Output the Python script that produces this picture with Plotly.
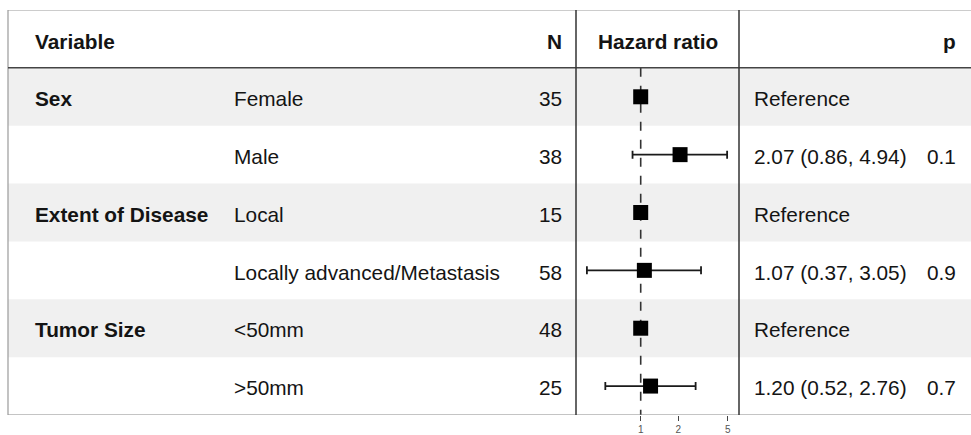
import math
import plotly.graph_objects as go

# ---- data ----
variables = ["Sex", "", "Extent of Disease", "", "Tumor Size", ""]
levels = ["Female", "Male", "Local", "Locally advanced/Metastasis", "<50mm", ">50mm"]
n_obs = [35, 38, 15, 58, 48, 25]
hr = [1.0, 2.07, 1.0, 1.07, 1.0, 1.20]
ci_low = [None, 0.86, None, 0.37, None, 0.52]
ci_high = [None, 4.94, None, 3.05, None, 2.76]
p_vals = ["", "0.1", "", "0.9", "", "0.7"]
x_ticks = [1, 2, 5]

W, H = 971, 435
ML, MR, MT, MB = 8, 0, 10, 15
PW = W - ML - MR

def px(p):
    return (p - ML) / PW

FONT = "Liberation Sans, Arial, sans-serif"
FS = 20.8
TXT = "#141414"

rows = len(levels)
ys = [i + 1.5 for i in range(rows)]

est_text = []
for h, lo, hi in zip(hr, ci_low, ci_high):
    if lo is None:
        est_text.append("Reference")
    else:
        est_text.append(f"{h:.2f} ({lo:.2f}, {hi:.2f})")

err_plus = [0 if hi is None else hi - h for h, hi in zip(hr, ci_high)]
err_minus = [0 if lo is None else h - lo for h, lo in zip(hr, ci_low)]

fig = go.Figure()
fig.add_trace(go.Scatter(
    x=hr, y=ys, mode="markers",
    marker=dict(symbol="square", size=15, color="black"),
    error_x=dict(type="data", symmetric=False, array=err_plus, arrayminus=err_minus,
                 color="#1a1a1a", thickness=1.8, width=4),
    showlegend=False, hoverinfo="skip", cliponaxis=False,
))

shapes = []
# row bands
for i in range(rows):
    if i % 2 == 0:
        shapes.append(dict(type="rect", xref="paper", yref="y", x0=0, x1=1,
                           y0=i + 1, y1=i + 2, fillcolor="#f0f0f0", line_width=0, layer="below"))
# borders
shapes.append(dict(type="line", xref="paper", yref="y", x0=0, x1=1, y0=0, y1=0,
                   line=dict(color="#9a9a9a", width=1.2)))
shapes.append(dict(type="line", xref="paper", yref="y", x0=0, x1=1, y0=rows + 1, y1=rows + 1,
                   line=dict(color="#8a8a8a", width=1.2)))
shapes.append(dict(type="line", xref="paper", yref="y", x0=0, x1=0, y0=0, y1=rows + 1,
                   line=dict(color="#9a9a9a", width=1.2)))
shapes.append(dict(type="line", xref="paper", yref="y", x0=0, x1=1, y0=1, y1=1,
                   line=dict(color="#444444", width=1.5)))
for xp in (576, 739):
    shapes.append(dict(type="line", xref="paper", yref="y", x0=px(xp), x1=px(xp), y0=0, y1=rows + 1,
                       line=dict(color="#333333", width=1.5)))
# reference line at HR = 1
shapes.append(dict(type="line", xref="x", yref="y", x0=1, x1=1, y0=1, y1=rows + 1,
                   line=dict(color="#333333", width=1.6, dash="dash"), layer="below"))

ann = []
def add(text, xpix, y, anchor, bold=False):
    ann.append(dict(text=f"<b>{text}</b>" if bold else text, x=px(xpix), y=y,
                    xref="paper", yref="y", xanchor=anchor, yanchor="middle",
                    showarrow=False, font=dict(family=FONT, size=FS, color=TXT)))

hy = 0.55
add("Variable", 33, hy, "left", True)
add("N", 564, hy, "right", True)
add("Hazard ratio", 658, hy, "center", True)
add("p", 958, hy, "right", True)

for i in range(rows):
    y = ys[i] + 0.03
    if variables[i]:
        add(variables[i], 33, y, "left", True)
    add(levels[i], 232, y, "left")
    add(str(n_obs[i]), 564, y, "right")
    add(est_text[i], 752, y, "left")
    if p_vals[i]:
        add(p_vals[i], 958, y, "right")

lo_px = (576 - 640.7) / 54.1
hi_px = (739 - 640.7) / 54.1

fig.update_layout(
    width=W, height=H,
    margin=dict(l=ML, r=MR, t=MT, b=MB, pad=0),
    paper_bgcolor="white", plot_bgcolor="rgba(0,0,0,0)",
    shapes=shapes, annotations=ann,
    xaxis=dict(type="log", domain=[px(576), px(739)],
               range=[lo_px / math.log(10), hi_px / math.log(10)],
               tickvals=x_ticks, ticktext=[str(t) for t in x_ticks],
               ticks="outside", ticklen=5, tickwidth=1.2, tickcolor="#444444",
               showgrid=False, zeroline=False, showline=False,
               tickfont=dict(family=FONT, size=10, color="#555555")),
    yaxis=dict(range=[rows + 1, 0], domain=[0, 1], showgrid=False, zeroline=False,
               showline=False, showticklabels=False, ticks=""),
)

fig.write_html("out.html")
